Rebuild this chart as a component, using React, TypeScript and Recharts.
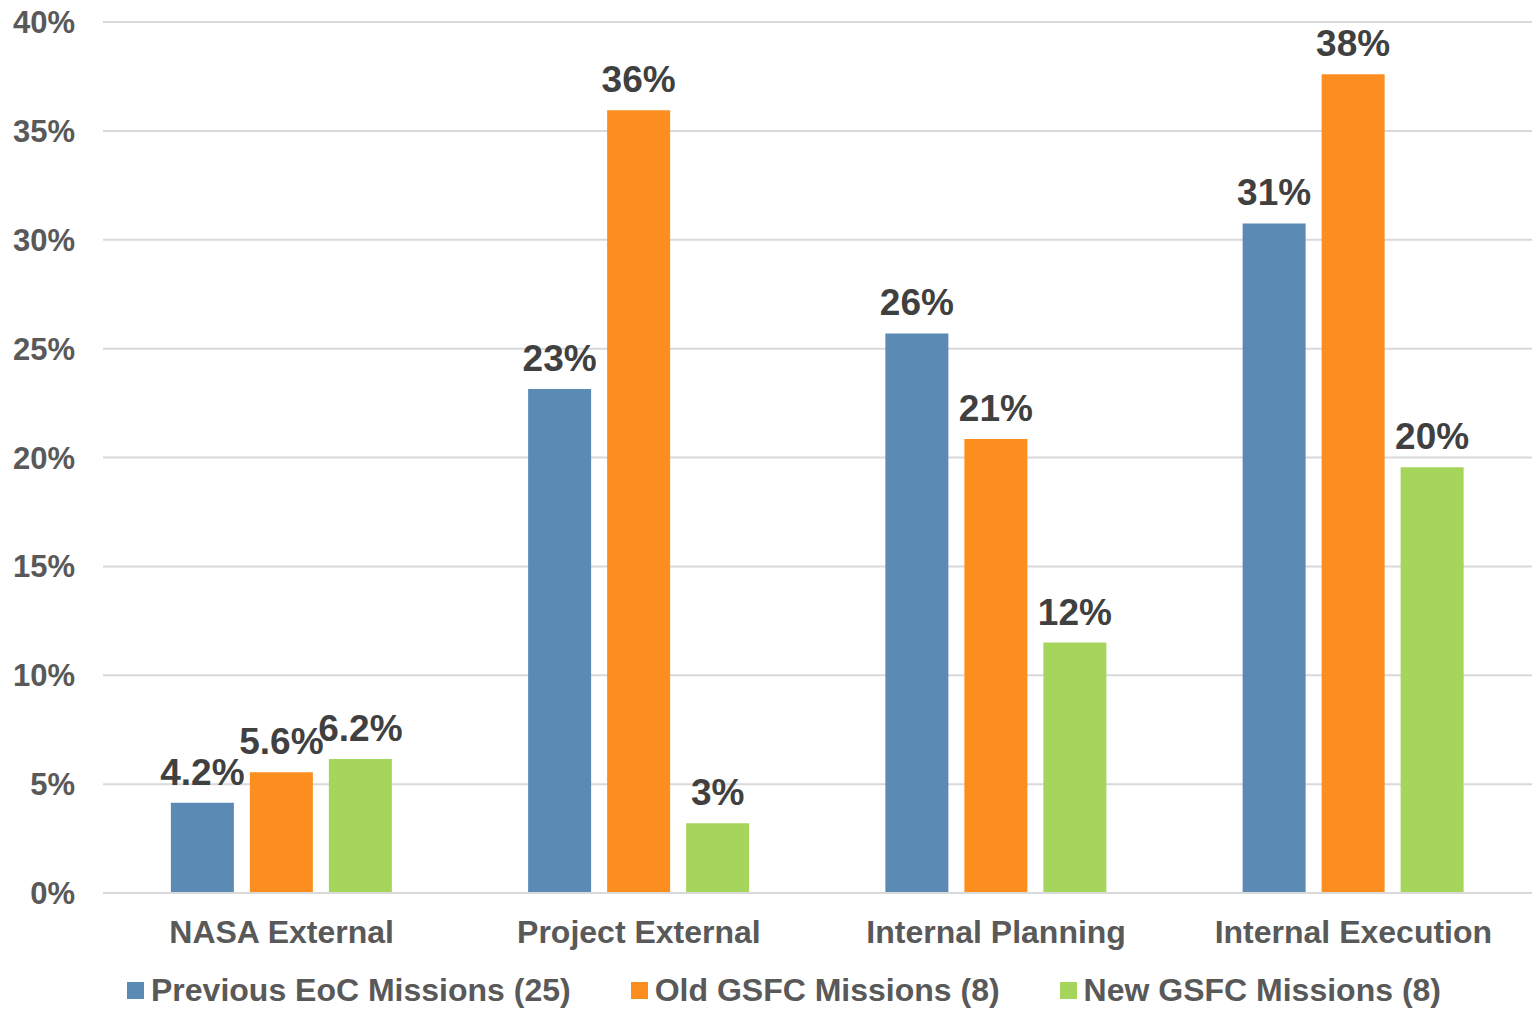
import { Bar, BarChart, CartesianGrid, LabelList, Legend, XAxis, YAxis } from 'recharts';

const categories = ['NASA External', 'Project External', 'Internal Planning', 'Internal Execution'];
const previousEoc = [4.15, 23.15, 25.7, 30.75];
const oldGsfc = [5.55, 35.95, 20.85, 37.6];
const newGsfc = [6.15, 3.2, 11.5, 19.55];
const previousLabels = ['4.2%', '23%', '26%', '31%'];
const oldLabels = ['5.6%', '36%', '21%', '38%'];
const newLabels = ['6.2%', '3%', '12%', '20%'];
const yTicks = [0, 5, 10, 15, 20, 25, 30, 35, 40];

const series = [
  { key: 'prev', name: 'Previous EoC Missions (25)', color: '#5B8AB5', values: previousEoc, labels: previousLabels },
  { key: 'old', name: 'Old GSFC Missions (8)', color: '#FB8E1F', values: oldGsfc, labels: oldLabels },
  { key: 'new', name: 'New GSFC Missions (8)', color: '#A6D55B', values: newGsfc, labels: newLabels },
];

const data = categories.map((name, i) => {
  const row: Record<string, string | number> = { name };
  series.forEach((s) => {
    row[s.key] = s.values[i];
    row[s.key + 'Label'] = s.labels[i];
  });
  return row;
});

const font = '"Liberation Sans", Arial, sans-serif';

function LegendRow() {
  return (
    <div
      style={{
        display: 'flex',
        justifyContent: 'center',
        gap: 60,
        fontFamily: font,
        fontWeight: 700,
        fontSize: 32,
        color: '#595959',
        lineHeight: '40px',
        paddingLeft: 36,
      }}
    >
      {series.map((s) => (
        <div key={s.key} style={{ display: 'flex', alignItems: 'center' }}>
          <span style={{ width: 17, height: 17, background: s.color, marginRight: 7, display: 'inline-block' }} />
          <span>{s.name}</span>
        </div>
      ))}
    </div>
  );
}

export default function App() {
  return (
    <div style={{ position: 'absolute', left: 0, top: 0, background: '#fff' }}>
      <BarChart
        width={1532}
        height={1010}
        data={data}
        margin={{ top: 22, right: 0, left: 0, bottom: 0 }}
        barCategoryGap="19%"
        barGap={16}
      >
        <CartesianGrid stroke="#d9d9d9" strokeWidth={2} vertical={false} />
        <XAxis
          dataKey="name"
          height={77}
          tickLine={false}
          tickSize={0}
          tickMargin={27}
          axisLine={{ stroke: '#d9d9d9', strokeWidth: 2 }}
          tick={{ fill: '#595959', fontSize: 32, fontWeight: 700, fontFamily: font }}
        />
        <YAxis
          width={103}
          domain={[0, 40]}
          ticks={yTicks}
          tickFormatter={(v) => `${v}%`}
          axisLine={false}
          tickLine={false}
          tickSize={0}
          tickMargin={28}
          tick={{ fill: '#595959', fontSize: 31, fontWeight: 700, fontFamily: font }}
        />
        <Legend verticalAlign="bottom" height={40} content={() => <LegendRow />} />
        {series.map((s) => (
          <Bar key={s.key} dataKey={s.key} name={s.name} fill={s.color} isAnimationActive={false}>
            <LabelList
              dataKey={s.key + 'Label'}
              position="top"
              offset={18}
              fill="#404040"
              fontSize={37}
              fontWeight={700}
              fontFamily={font}
            />
          </Bar>
        ))}
      </BarChart>
    </div>
  );
}
